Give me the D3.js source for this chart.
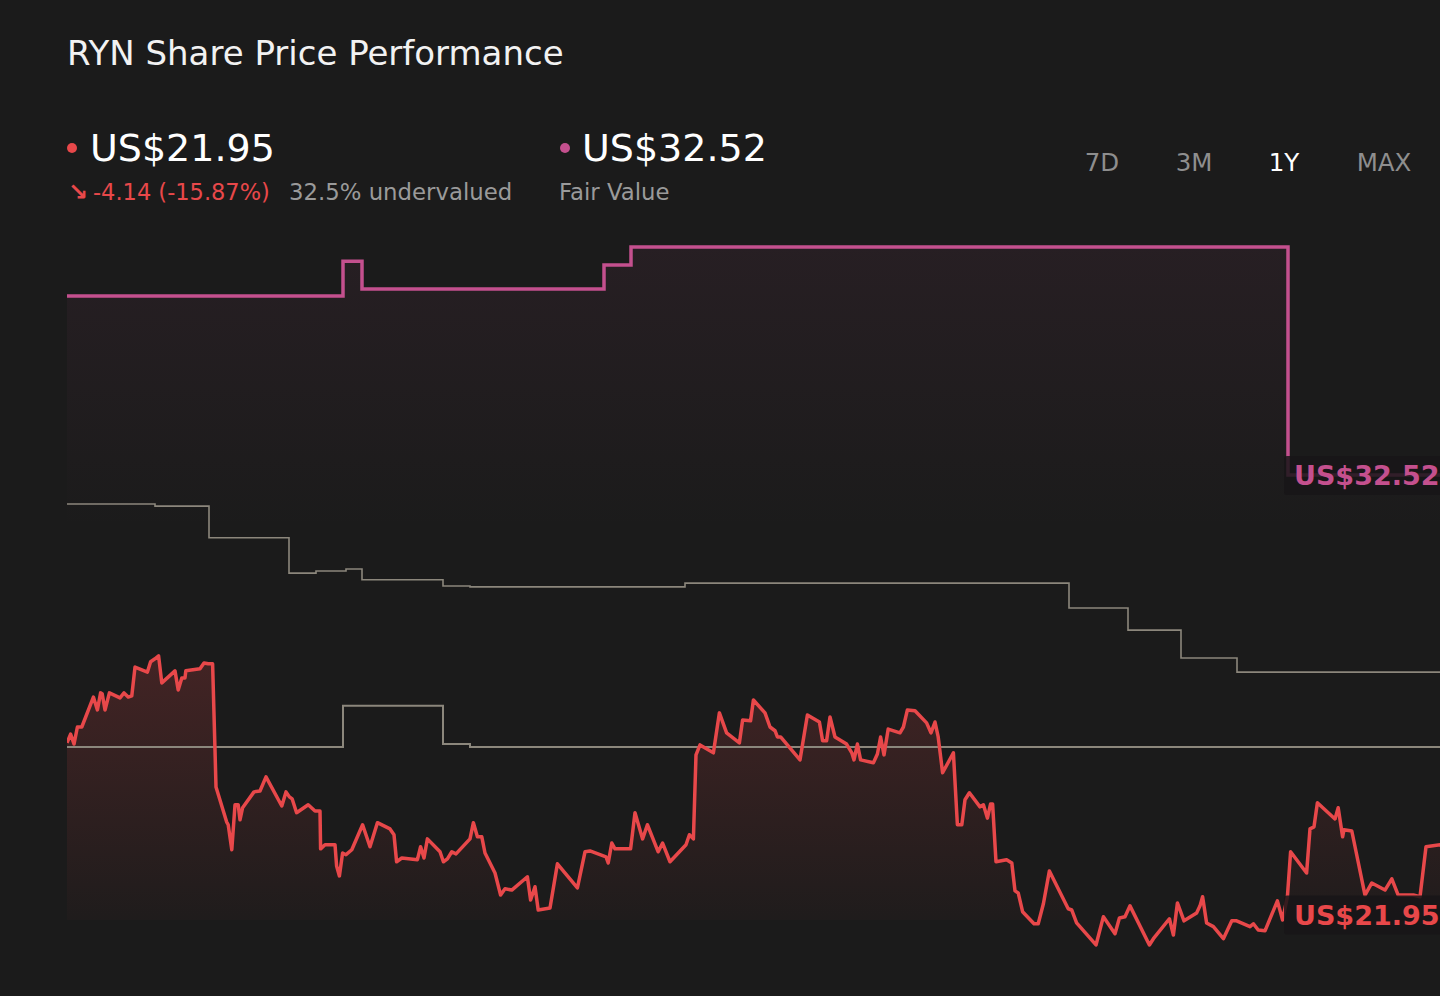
<!DOCTYPE html>
<html>
<head>
<meta charset="utf-8">
<script src="https://cdn.jsdelivr.net/npm/d3@7"></script>
<style>
  html, body { margin: 0; padding: 0; background: #1b1b1b; overflow: hidden; }
  svg { display: block; font-family: "DejaVu Sans", sans-serif; }
</style>
</head>
<body>
<svg id="chart" width="1440" height="996"></svg>
<script>
// share price, [day of the year, US$]
var price = [
  [0,26.08],[0.9,26.29],[1.75,26.05],[2.6,26.46],[3.7,26.46],[6.6,27.18],[7.6,26.87],[8.4,27.28],
  [8.8,27.26],[9.5,26.87],[10.6,27.28],[13.25,27.16],[14.25,27.28],[15.3,27.18],[16.2,27.21],[17,27.90],
  [20.1,27.78],[20.9,28.03],[22,28.10],[22.9,28.17],[23.7,27.52],[27,27.81],[27.8,27.35],[28.7,27.64],
  [29.5,27.64],[29.7,27.81],[33.25,27.86],[34.25,28.00],[35.3,27.98],[36.4,27.98],[37,25.91],[37.25,25.02],
  [39.9,24.18],[40.3,24.11],[41.2,23.51],[42,24.59],[42.8,24.59],[43.25,24.23],[43.9,24.52],[46.75,24.90],
  [48.25,24.92],[49.75,25.26],[53.7,24.56],[54.75,24.90],[55.6,24.78],[56.3,24.73],[57.4,24.40],[60.3,24.59],
  [62,24.44],[63.25,24.44],[63.4,23.53],[64.5,23.63],[67,23.63],[67.4,23.12],[68.1,22.88],[68.9,23.43],
  [69.75,23.39],[71.2,23.51],[73.9,24.11],[75.75,23.58],[77.6,24.16],[80.75,24.01],[81.75,23.87],[82.4,23.22],
  [83.7,23.31],[87.6,23.27],[88.4,23.58],[89.25,23.31],[90.1,23.77],[93.25,23.46],[94.1,23.22],[95.1,23.29],
  [96.2,23.46],[97.25,23.41],[100.75,23.77],[101.6,24.16],[102.6,23.82],[103.7,23.82],[104.5,23.43],[107,22.95],
  [108.4,22.42],[109.5,22.57],[111.2,22.54],[115.1,22.86],[115.9,22.30],[117,22.62],[117.8,22.06],[120.75,22.11],
  [122.6,23.17],[127.6,22.59],[129.5,23.46],[130.75,23.48],[134.75,23.34],[135.3,23.19],[136.2,23.67],[137,23.53],
  [140.9,23.53],[142,24.40],[143.9,23.77],[145.1,24.11],[147.8,23.46],[148.9,23.67],[150.75,23.22],[154.75,23.63],
  [155.6,23.87],[156.6,23.77],[157.25,25.79],[158.25,26.03],[161.6,25.84],[163.1,26.80],[164.9,26.32],[168.1,26.08],
  [168.9,26.63],[170.9,26.61],[171.6,27.11],[174.5,26.80],[175.75,26.46],[177,26.37],[177.6,26.22],[178.4,26.22],
  [183.25,25.67],[185.1,26.75],[188.1,26.58],[188.9,26.13],[189.9,26.13],[190.75,26.70],[192,26.22],[194.9,26.05],
  [196.2,25.84],[196.75,25.67],[197.6,26.05],[198.4,25.67],[201.6,25.60],[202.6,25.81],[203.4,26.22],[204.25,25.79],
  [205.3,26.41],[208.25,26.32],[209.1,26.46],[210.1,26.87],[212,26.85],[214.9,26.56],[216,26.32],[217,26.58],
  [217.8,26.22],[218.9,25.36],[221.6,25.84],[222.6,24.11],[223.7,24.11],[224.5,24.71],[225.6,24.88],[228.25,24.54],
  [229.1,24.59],[230.1,24.27],[230.9,24.61],[231.4,24.61],[232.25,23.22],[234.9,23.27],[236.2,23.19],[237,22.52],
  [237.8,22.47],[238.9,22.02],[241.75,21.73],[242.8,21.73],[244.1,22.21],[245.6,23.00],[250.3,22.09],[251.2,22.06],
  [252.4,21.75],[257.25,21.22],[259.1,21.90],[262,21.49],[263.1,21.87],[264.5,21.90],[265.75,22.16],[270.6,21.22],
  [271.6,21.37],[275.6,21.85],[276.6,21.46],[277.6,22.23],[279.25,21.80],[282.4,21.99],[283.25,22.16],[283.9,22.38],
  [284.9,21.75],[286.6,21.66],[289.1,21.37],[291.2,21.80],[292.4,21.80],[295.75,21.66],[296.6,21.73],[297.8,21.58],
  [299.5,21.56],[302.6,22.28],[303.9,21.82],[305.1,22.38],[305.9,23.46],[309.9,22.95],[310.75,24.01],[311.75,24.06],
  [312.6,24.64],[317,24.25],[317.8,24.52],[318.9,23.82],[319.25,23.99],[321.2,23.96],[324.5,22.42],[326.2,22.71],
  [329.5,22.54],[331.2,22.81],[332.8,22.42],[336.6,22.42],[338.25,22.38],[339.75,23.58],[343.25,23.63],[365,21.95]
];

// fair value estimate (steps)
var fairValue = [[0,36.82],[69,37.66],[73.75,36.99],[134.25,37.57],[141,38.00],[305.25,32.52],[365,32.52]];

// grey reference steps
var upperRef = [[0,31.82],[22,31.77],[35.5,31.01],[55.5,30.16],[62.25,30.21],[69.75,30.26],[73.75,30.00],
  [94,29.85],[100.75,29.83],[154.5,29.92],[250.5,29.32],[265.25,28.79],[278.5,28.12],[292.5,27.78],[365,27.78]];
var lowerRef = [[0,25.98],[69,26.97],[94,26.05],[100.75,25.98],[365,25.98]];

var lastPrice = 21.95, lastFair = 32.52;
var ranges = ["7D", "3M", "1Y", "MAX"];
var rangePos = [1102, 1194, 1284, 1384];
var activeRange = "1Y";

var red = "#e8484a", pink = "#c4508e", grey = "#8c877c";

var svg = d3.select("#chart");

var x = d3.scaleLinear().domain([0, 365]).range([67, 1527]);
var y = d3.scaleLinear().domain([21.82, 38]).range([920, 247]);
var bottom = y.range()[0];

var defs = svg.append("defs");
function grad(id, color, top, end, y1, y2) {
  var g = defs.append("linearGradient").attr("id", id)
    .attr("gradientUnits", "userSpaceOnUse").attr("x1", 0).attr("x2", 0).attr("y1", y1).attr("y2", y2);
  g.append("stop").attr("offset", 0).attr("stop-color", color).attr("stop-opacity", top);
  g.append("stop").attr("offset", 1).attr("stop-color", color).attr("stop-opacity", end);
}
grad("fvFill", pink, 0.07, 0, 247, 530);
grad("pxFill", red, 0.2, 0.02, 650, 920);

defs.append("clipPath").attr("id", "plot").append("rect")
  .attr("x", 67).attr("y", 0).attr("width", 1440 - 67).attr("height", 996);

var plot = svg.append("g").attr("clip-path", "url(#plot)");

var stepArea = d3.area().curve(d3.curveStepAfter).x(d => x(d[0])).y0(bottom).y1(d => y(d[1]));
var stepLine = d3.line().curve(d3.curveStepAfter).x(d => x(d[0])).y(d => y(d[1]));
var area = d3.area().x(d => x(d[0])).y0(bottom).y1(d => y(d[1]));
var line = d3.line().x(d => x(d[0])).y(d => y(d[1]));

plot.append("path").attr("d", stepArea(fairValue)).attr("fill", "url(#fvFill)");
plot.append("path").attr("d", area(price)).attr("fill", "url(#pxFill)");

plot.append("path").attr("d", stepLine(upperRef)).attr("fill", "none")
  .attr("stroke", grey).attr("stroke-width", 1.6);
plot.append("path").attr("d", stepLine(lowerRef)).attr("fill", "none")
  .attr("stroke", grey).attr("stroke-width", 2);
plot.append("path").attr("d", stepLine(fairValue)).attr("fill", "none")
  .attr("stroke", pink).attr("stroke-width", 3.5);
plot.append("path").attr("d", line(price)).attr("fill", "none")
  .attr("stroke", red).attr("stroke-width", 3.5).attr("stroke-linejoin", "round");

// end labels
function endLabel(v, color) {
  var cy = y(v);
  svg.append("rect").attr("x", 1284).attr("y", cy - 19).attr("width", 170).attr("height", 39)
    .attr("rx", 3).attr("fill", "#181517").attr("fill-opacity", 0.85);
  svg.append("text").attr("x", 1294).attr("y", cy + 10).attr("fill", color)
    .attr("font-size", 27).attr("font-weight", "bold").text("US$" + v.toFixed(2));
}
endLabel(lastFair, pink);
endLabel(lastPrice, red);

// header
svg.append("text").attr("x", 67).attr("y", 65).attr("fill", "#f2f2f2")
  .attr("font-size", 34).text("RYN Share Price Performance");

svg.append("circle").attr("cx", 72).attr("cy", 148).attr("r", 5).attr("fill", red);
svg.append("text").attr("x", 90).attr("y", 161).attr("fill", "#ffffff")
  .attr("font-size", 38).text("US$" + lastPrice.toFixed(2));

svg.append("text").attr("x", 68).attr("y", 200).attr("fill", red).attr("font-size", 24)
  .attr("font-weight", "bold").text("\u2198");
svg.append("text").attr("x", 93).attr("y", 200).attr("fill", red).attr("font-size", 22.5)
  .text("-4.14 (-15.87%)");
svg.append("text").attr("x", 289).attr("y", 200).attr("fill", "#9a9a9a").attr("font-size", 22.8)
  .text(((lastFair - lastPrice) / lastFair * 100).toFixed(1) + "% undervalued");

svg.append("circle").attr("cx", 565).attr("cy", 148).attr("r", 5).attr("fill", pink);
svg.append("text").attr("x", 582).attr("y", 161).attr("fill", "#ffffff")
  .attr("font-size", 38).text("US$" + lastFair.toFixed(2));
svg.append("text").attr("x", 559).attr("y", 200).attr("fill", "#9a9a9a").attr("font-size", 22.8)
  .text("Fair Value");

svg.selectAll(".rng").data(ranges).enter().append("text")
  .attr("class", "rng")
  .attr("x", (d, i) => rangePos[i]).attr("y", 171).attr("text-anchor", "middle")
  .attr("font-size", 24.5)
  .attr("fill", d => d === activeRange ? "#ffffff" : "#8e8e8e")
  .text(d => d);
</script>
</body>
</html>
